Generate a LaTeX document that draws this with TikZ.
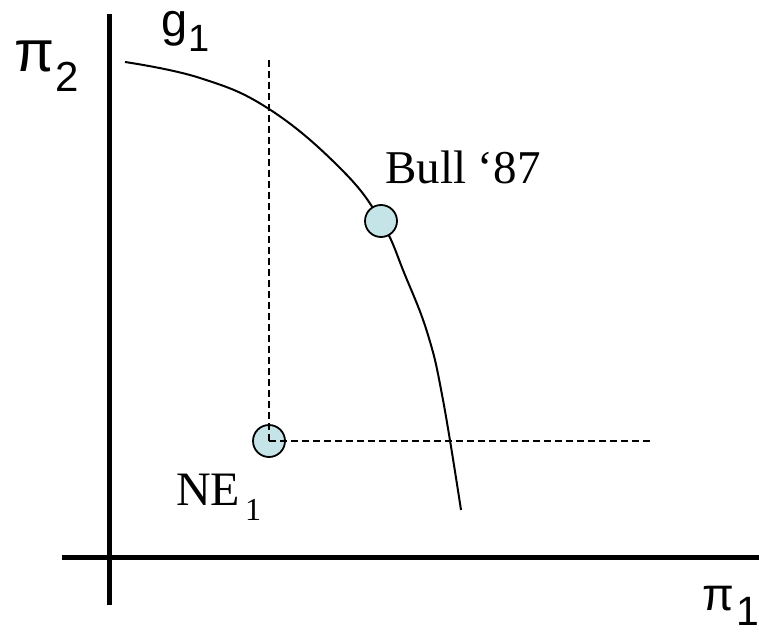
\documentclass[tikz,border=0pt]{standalone}
\usepackage{fontspec}
\setmainfont{Liberation Serif}
\newfontfamily\arialfont{Liberation Sans}
\begin{document}
\begin{tikzpicture}[x=1pt,y=-1pt,
  axis/.style={line width=5pt,line cap=butt},
  frontier/.style={line width=2pt},
  guide/.style={line width=1.6pt,dash pattern=on 7pt off 4pt},
  pt/.style={circle,draw=black,line width=1.8pt,fill=ptfill,minimum size=32pt,inner sep=0pt},
  sanslabel/.style={anchor=base west,inner sep=0pt,font=\arialfont},
  seriflabel/.style={anchor=base west,inner sep=0pt}
]
\definecolor{ptfill}{RGB}{197,228,231}
\useasboundingbox (0,0) rectangle (759,636);
% axes
\coordinate (ytop) at (109,14);
\coordinate (ybot) at (109,605);
\coordinate (xleft) at (62,557);
\coordinate (xright) at (759,557);
\draw[axis] (ybot) -- (ytop);
\draw[axis] (xleft) -- (xright);
% frontier curve
\draw[frontier] plot[smooth,tension=0.7] coordinates {(125,62) (200,78) (269,109) (340,168) (381,221) (405,275) (428,335) (443,400) (461,510)};
% points
\node[pt] (bull) at (381,221) {};
\node[pt] (ne) at (269,441) {};
% guides
\coordinate (vtop) at (269,57);
\coordinate (hend) at (653,441);
\draw[guide] (ne.center) -- (vtop);
\draw[guide] (ne.center) -- (hend);
% labels
\node[sanslabel] (p2) at (14,72) {\fontsize{58}{58}\selectfont π\kern1pt\raisebox{-20pt}{\fontsize{42}{42}\selectfont 2}};
\node[sanslabel] (g1) at (161,37) {\fontsize{47}{47}\selectfont g\kern1pt\raisebox{-15pt}{\fontsize{38}{38}\selectfont 1}};
\node[sanslabel] (p1) at (702,610) {\fontsize{46}{46}\selectfont π\kern3pt\raisebox{-15pt}{\fontsize{41}{41}\selectfont 1}};
\node[seriflabel] (bulltxt) at (385,184) {\fontsize{47}{47}\selectfont Bull ‘87};
\node[seriflabel] (netxt) at (176,505) {\fontsize{48}{48}\selectfont NE\kern5pt\raisebox{-15pt}{\fontsize{32}{32}\selectfont 1}};
\end{tikzpicture}
\end{document}
